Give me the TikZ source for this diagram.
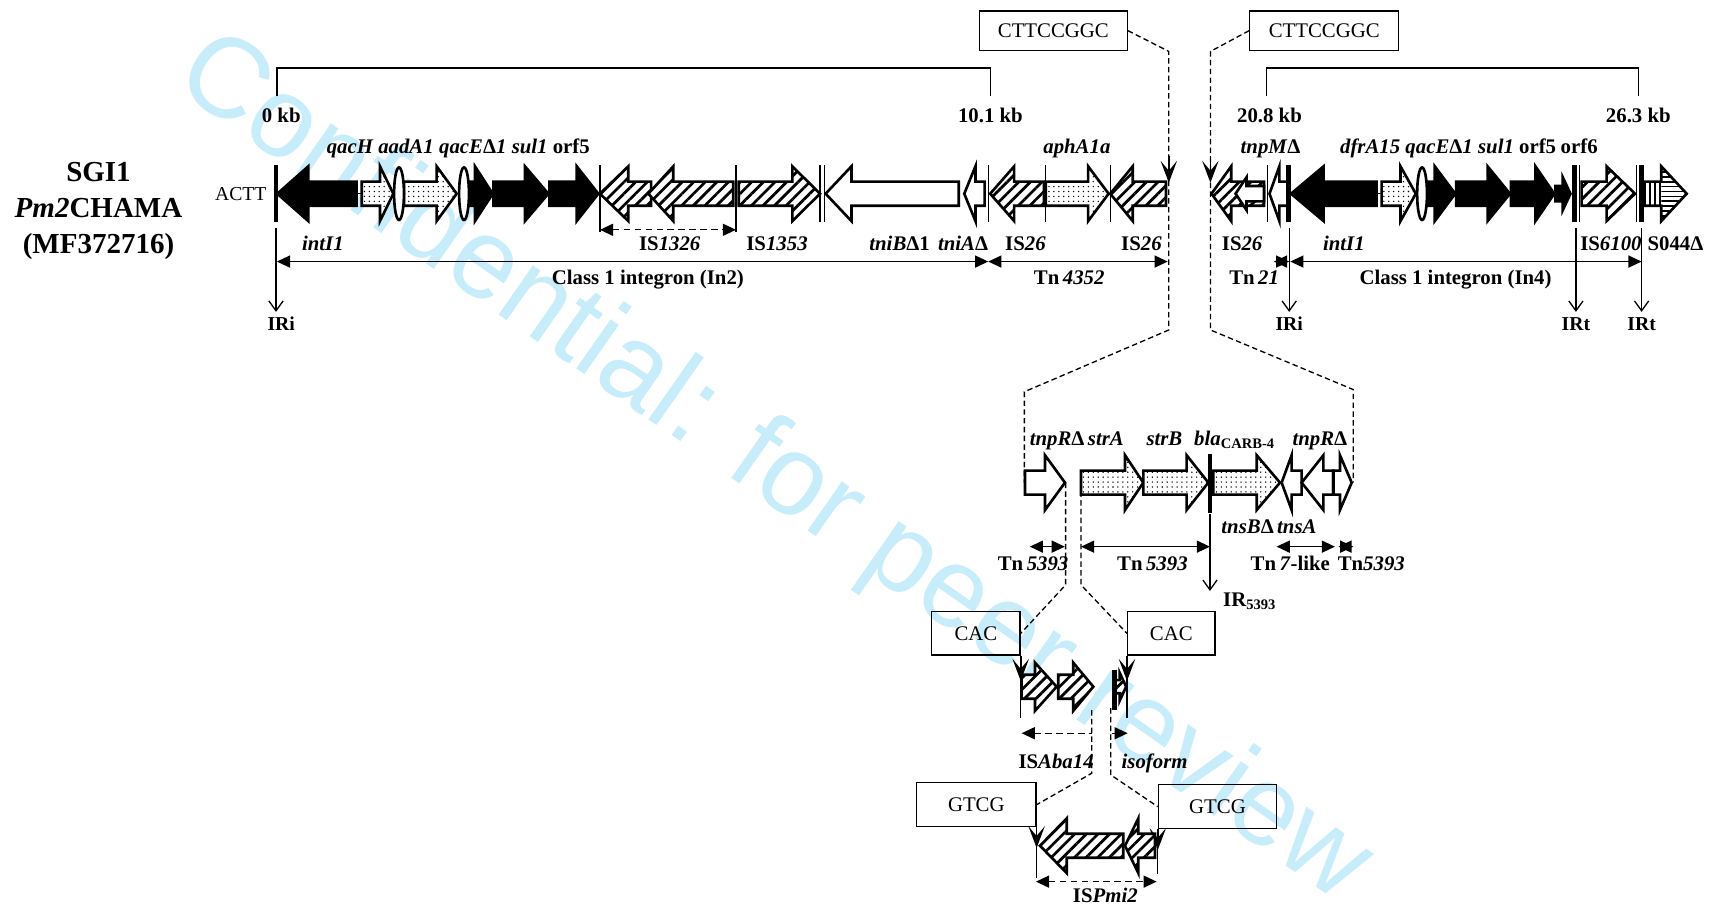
\documentclass[tikz,border=0pt]{standalone}
\usepackage{fontspec}
\setmainfont{Liberation Serif}
\newfontfamily\wmfont{Liberation Sans}
\usepackage{tikz}
\usetikzlibrary{arrows.meta,patterns.meta}
\definecolor{sgInk}{HTML}{000000}
\definecolor{sgMark}{HTML}{C8EDFA}
\newcommand{\gbody}{11}
\newcommand{\ghead}{25}
% #1 style, #2 tail x, #3 head base x, #4 tip x, #5 row y
\newcommand{\gene}[5]{\draw[#1] (#2,#5-\gbody) -- (#3,#5-\gbody) -- (#3,#5-\ghead) -- (#4,#5) -- (#3,#5+\ghead) -- (#3,#5+\gbody) -- (#2,#5+\gbody) -- cycle;}
\tikzset{
  sg diagram/.style={font=\fontsize{19}{22}\selectfont\bfseries, text=sgInk},
  sg gene/.style={draw=sgInk, line width=2.4pt, line join=miter},
  sg solid/.style={sg gene, fill=sgInk},
  sg open/.style={sg gene, fill=white},
  sg dots/.style={sg gene, preaction={fill=white}, pattern={Dots[distance=4.5pt,radius=0.7pt]}},
  sg hatch/.style={sg gene, preaction={fill=white}, pattern={Lines[angle=45,distance=7.5pt,line width=2.5pt]}},
  sg ring/.style={draw=sgInk, line width=2.4pt, fill=white},
  sg bar/.style={draw=sgInk, line width=4.5pt},
  sg thin/.style={draw=sgInk, line width=1.2pt},
  sg span/.style={sg thin, {Triangle[length=12pt,width=11pt]}-{Triangle[length=12pt,width=11pt]}},
  sg dashed span/.style={sg span, dash pattern=on 6pt off 4pt},
  sg ir/.style={sg thin, -{Straight Barb[length=9pt,width=13pt]}},
  sg link/.style={draw=sgInk, line width=1.2pt, dash pattern=on 5pt off 3pt},
  sg insert/.style={draw=sgInk, line width=1.5pt, -{Stealth[length=20pt,width=15pt,inset=9pt]}},
  sg box/.style={draw=sgInk, line width=1.2pt, inner sep=0pt, font=\fontsize{19}{22}\selectfont},
  sg label/.style={inner sep=0pt, text height=12.5pt, text depth=0pt}
}

\begin{document}
\begin{tikzpicture}[sg diagram, x=1pt, y=-1pt]
\useasboundingbox (0,0) rectangle (1568,832);
\node[font=\wmfont\fontsize{104}{104}\selectfont, text=sgMark, rotate=-35] (mark) at (706,430) {Confidential: for peer review};

\node[align=center, font=\fontsize{26.5}{33}\selectfont\bfseries] (title) at (90,193) {SGI1\\\textit{Pm2}CHAMA\\(MF372716)};
\node[sg label, font=\fontsize{18}{20}\selectfont] (actt) at (220,177) {ACTT};

\draw[sg thin] (253,88) -- (253,62) -- (905,62) -- (905,88);
\draw[sg thin] (1157,88) -- (1157,62) -- (1497,62) -- (1497,88);
\node[sg label] (kbA) at (257,106) {0 kb};
\node[sg label] (kbB) at (905,106) {10.1 kb};
\node[sg label] (kbC) at (1160,106) {20.8 kb};
\node[sg label] (kbD) at (1497,106) {26.3 kb};

\node[sg box, minimum width=135, minimum height=36] (jl) at (962.5,28) {CTTCCGGC};
\node[sg box, minimum width=136, minimum height=36] (jr) at (1210,28) {CTTCCGGC};
\draw[sg link] (jl.east) -- (1068,47) -- (1068,301.5) -- (936,358) -- (936,441);
\draw[sg link] (jr.west) -- (1106,47) -- (1106,301.5) -- (1236.6,356) -- (1236.6,441);

% row 1, left part
\draw[sg bar] (252.2,151) -- (252.2,203);
\gene{sg solid}{325.9}{281.7}{253.4}{177}
\draw[sg thin] (325.9,177) -- (330.5,177);
\gene{sg dots}{330.5}{347.2}{359.4}{177}
\gene{sg dots}{369.2}{399}{417.3}{177}
\gene{sg solid}{428.9}{434}{450.2}{177}
\gene{sg solid}{450.8}{479.7}{501}{177}
\gene{sg solid}{502}{527}{546.7}{177}
\draw[sg ring] (364.6,177) ellipse [x radius=4.5, y radius=24];
\draw[sg ring] (424,177) ellipse [x radius=4.5, y radius=24];
\gene{sg hatch}{595}{574.1}{548.2}{177}
\gene{sg hatch}{670}{615.2}{592.4}{177}
\gene{sg hatch}{675}{724}{749.3}{177}
\gene{sg open}{876}{778}{754.4}{177}
\gene{sg open}{899.7}{891.3}{881.1}{177}
\gene{sg hatch}{953.8}{926.7}{904.8}{177}
\gene{sg dots}{955.5}{994.3}{1013}{177}
\gene{sg hatch}{1065.4}{1035}{1014.5}{177}
\foreach \xb in {548.2,672.5} \draw[sg thin] (\xb,151) -- (\xb,212);
\foreach \xb in {749.3,753.4,903,955.5,1014.5} \draw[sg thin] (\xb,151) -- (\xb,203);
\draw[sg insert] (1068,143) -- (1068,167);

% row 1, right part
\gene{sg hatch}{1155}{1125}{1107}{177}
\renewcommand{\gbody}{7}\renewcommand{\ghead}{15}
\gene{sg open}{1155}{1139}{1129}{177}
\renewcommand{\gbody}{11}\renewcommand{\ghead}{25}
\draw[sg thin] (1158,151) -- (1158,203);
\gene{sg open}{1176.6}{1169}{1160}{177}
\draw[sg bar] (1177.5,151) -- (1177.5,203);
\gene{sg solid}{1257.8}{1209.4}{1179.7}{177}
\draw[sg thin] (1257.8,177) -- (1262.5,177);
\gene{sg dots}{1262.5}{1279.7}{1293.7}{177}
\gene{sg solid}{1303}{1311}{1329.7}{177}
\gene{sg solid}{1330.6}{1359.3}{1379.7}{177}
\gene{sg solid}{1380.6}{1403}{1420.2}{177}
\draw[sg ring] (1299.4,177) ellipse [x radius=4.5, y radius=24];
\draw[sg solid] (1421.2,170) -- (1428,170) -- (1428,162) -- (1435,177) -- (1428,192) -- (1428,184) -- (1421.2,184) -- cycle;
\draw[sg bar] (1438.5,151) -- (1438.5,203);
\draw[sg thin] (1443.5,151) -- (1443.5,203);
\gene{sg hatch}{1445.2}{1468}{1494}{177}
\draw[sg thin] (1495.5,151) -- (1495.5,203);
\draw[sg bar] (1499.5,151) -- (1499.5,203);
\fill[pattern={Lines[angle=90,distance=4.5pt,line width=2pt]}] (1501,166) rectangle (1518,188);
\fill[pattern={Lines[angle=0,distance=4.5pt,line width=1.6pt]}] (1518,152) -- (1541.2,177) -- (1518,202) -- cycle;
\gene{sg gene}{1501}{1518}{1541.2}{177}
\draw[sg insert] (1106,143) -- (1106,167);

% row 1 labels
\node[sg label] (qacH) at (320,134) {\textit{qacH}};
\node[sg label] (aadA) at (371,134) {\textit{aadA1}};
\node[sg label] (qacEa) at (432,134) {\textit{qacE}\textup{Δ}\textit{1}};
\node[sg label] (sulA) at (484,134) {\textit{sul1}};
\node[sg label] (orfA) at (522,134) {orf5};
\node[sg label] (aph) at (984,134) {\textit{aphA1a}};
\node[sg label] (tnpM) at (1161,134) {\textit{tnpM}\textup{Δ}};
\node[sg label] (dfr) at (1252,134) {\textit{dfrA15}};
\node[sg label] (qacEb) at (1315,134) {\textit{qacE}\textup{Δ}\textit{1}};
\node[sg label] (sulB) at (1367,134) {\textit{sul1}};
\node[sg label] (orfB) at (1405,134) {orf5};
\node[sg label] (orfC) at (1443,134) {orf6};

\node[sg label] (intA) at (295,223) {\textit{intI1}};
\node[sg label] (isA) at (612,223) {IS\textit{1326}};
\node[sg label] (isB) at (710,223) {IS\textit{1353}};
\node[sg label] (tniB) at (822,223) {\textit{tniB}\textup{Δ}1};
\node[sg label] (tniA) at (880,223) {\textit{tniA}\textup{Δ}};
\node[sg label] (isC) at (937,223) {IS\textit{26}};
\node[sg label] (isD) at (1043,223) {IS\textit{26}};
\node[sg label] (isE) at (1135,223) {IS\textit{26}};
\node[sg label] (intB) at (1228,223) {\textit{intI1}};
\node[sg label] (isF) at (1472,223) {IS\textit{6100}};
\node[sg label] (soh) at (1531,223) {S044\textup{Δ}};

\draw[sg dashed span] (548.2,210) -- (672.5,210);
\draw[sg span] (253,239) -- (903,239);
\draw[sg span] (903,239) -- (1067,239);
\draw[sg span] (1164,239) -- (1178,239);
\draw[sg span] (1179,239) -- (1500,239);
\node[sg label] (inA) at (592,254) {Class 1 integron (In2)};
\node[sg label] (tnA) at (977,254) {Tn\,\textit{4352}};
\node[sg label] (tnB) at (1146,254) {Tn\,\textit{21}};
\node[sg label] (inB) at (1330,254) {Class 1 integron (In4)};

\foreach \xb in {252.2,1178,1440,1500} \draw[sg ir] (\xb,208) -- (\xb,285);
\node[sg label, font=\fontsize{18}{20}\selectfont\bfseries] (irA) at (257,296) {IRi};
\node[sg label, font=\fontsize{18}{20}\selectfont\bfseries] (irB) at (1178,296) {IRi};
\node[sg label, font=\fontsize{18}{20}\selectfont\bfseries] (irC) at (1440,296) {IRt};
\node[sg label, font=\fontsize{18}{20}\selectfont\bfseries] (irD) at (1500,296) {IRt};

% row 2
\node[sg box, minimum width=80.7, minimum height=39.5] (cacl) at (891.7,578.8) {CAC};
\node[sg box, minimum width=79.8, minimum height=39.5] (cacr) at (1070.3,578.8) {CAC};
\draw[sg link] (973.7,441) -- (973.7,534.5) -- (cacl.east);
\draw[sg link] (987.8,441) -- (987.8,534.5) -- (cacr.west);
\gene{sg open}{936.6}{954.9}{973.1}{441}
\gene{sg dots}{987.8}{1028}{1044.7}{441}
\gene{sg dots}{1044.7}{1084.3}{1104.1}{441}
\draw[sg bar] (1105.6,415) -- (1105.6,469);
\gene{sg dots}{1108.7}{1148.3}{1169.6}{441}
\gene{sg open}{1189.4}{1180.2}{1171.1}{441}
\gene{sg open}{1218.3}{1209.2}{1189.4}{441}
\gene{sg open}{1218.3}{1224.4}{1235.1}{441}
\draw[sg thin, line width=2.4pt] (1218.3,430) -- (1218.3,452);

\node[sg label] (tnpRa) at (966,401) {\textit{tnpR}\textup{Δ}};
\node[sg label] (strA) at (1010.5,401) {\textit{strA}};
\node[sg label] (strB) at (1064,401) {\textit{strB}};
\node[sg label] (bla) at (1128,401) {\textit{bla}\textsubscript{CARB-4}};
\node[sg label] (tnpRb) at (1206,401) {\textit{tnpR}\textup{Δ}};
\node[sg label] (tnsB) at (1140,481) {\textit{tnsB}\textup{Δ}};
\node[sg label] (tnsA) at (1185,481) {\textit{tnsA}};

\draw[sg span] (941,499.5) -- (973,499.5);
\draw[sg span] (987.8,499.5) -- (1105.6,499.5);
\draw[sg span] (1166.5,499.5) -- (1219.8,499.5);
\draw[sg span] (1223,499.5) -- (1236.6,499.5);
\node[sg label] (tnC) at (944,515) {Tn\,\textit{5393}};
\node[sg label] (tnD) at (1053,515) {Tn\,\textit{5393}};
\node[sg label] (tnE) at (1179,515) {Tn\,\textit{7}-like};
\node[sg label] (tnF) at (1253,515) {Tn\textit{5393}};
\draw[sg ir] (1105.6,470) -- (1105.6,540);
\node[sg label, anchor=west] (irE) at (1117.5,548) {IR\textsubscript{5393}};

% row 3
\node[sg box, minimum width=109, minimum height=40] (gtcgl) at (892.1,735.3) {GTCG};
\node[sg box, minimum width=108, minimum height=40] (gtcgr) at (1112.5,737.1) {GTCG};
\draw[sg link] (997.5,648.8) -- (997.5,706.6) -- (gtcgl.east);
\draw[sg link] (1014.9,647) -- (1014.9,708) -- (gtcgr.west);
\draw[sg thin] (cacl.south east) -- ++(0,57);
\draw[sg thin] (cacr.south west) -- ++(0,57);
\draw[sg insert] (cacl.south east) -- ++(0,23);
\draw[sg insert] (cacr.south west) -- ++(0,23);
\renewcommand{\ghead}{22}
\gene{sg hatch}{933.5}{945.7}{965.5}{627.5}
\gene{sg hatch}{967}{980.7}{999}{627.5}
\renewcommand{\gbody}{6}\renewcommand{\ghead}{13}
\gene{sg hatch}{1019}{1023}{1029}{627.5}
\renewcommand{\gbody}{11}\renewcommand{\ghead}{25}
\draw[sg bar] (1018.5,612) -- (1018.5,649);
\draw[sg dashed span, {Triangle[length=12pt,width=11pt]}-] (933.5,670) -- (997.5,670);
\draw[sg thin, -{Triangle[length=12pt,width=11pt]}] (1015.8,670) -- (1030.4,670);
\node[sg label] (isAba) at (965,696) {IS\textit{Aba14}};
\node[sg label] (iso) at (1055,696) {\textit{isoform}};

% row 4
\draw[sg thin] (gtcgl.south east) -- ++(0,46);
\draw[sg thin] (gtcgr.south west) -- ++(0,41);
\draw[sg insert] (gtcgl.south east) -- ++(0,19);
\draw[sg insert] (gtcgr.south west) -- ++(0,19);
\gene{sg hatch}{1026.4}{974.7}{950.3}{772.8}
\gene{sg hatch}{1055.4}{1040.1}{1028}{772.8}
\draw[sg dashed span] (946.6,805.6) -- (1056.9,805.6);
\node[sg label] (isPmi) at (1010,818) {IS\textit{Pmi2}};
\end{tikzpicture}
\end{document}
